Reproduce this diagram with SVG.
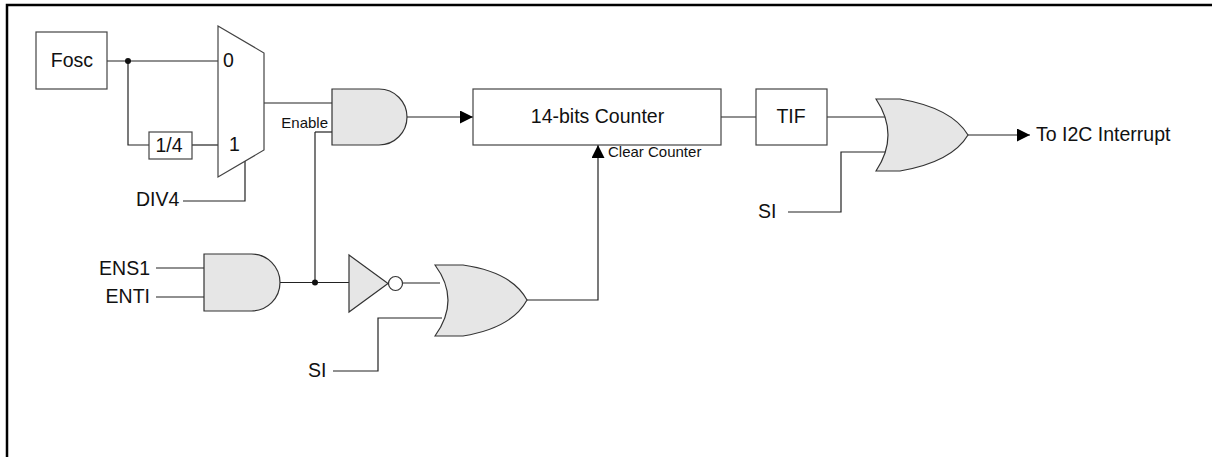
<svg xmlns="http://www.w3.org/2000/svg" width="1212" height="457" viewBox="0 0 1212 457">
<style>
  .w{fill:none;stroke:#222;stroke-width:1.2}
  .box{fill:#fff;stroke:#444;stroke-width:1.2}
  .g{fill:#e6e6e6;stroke:#333;stroke-width:1.2}
  .t{font-family:"Liberation Sans",Arial,sans-serif;font-size:19.5px;fill:#111}
  .s{font-family:"Liberation Sans",Arial,sans-serif;font-size:15px;fill:#111}
</style>
<defs>
  <marker id="arr" viewBox="0 0 10 10" refX="10" refY="5" markerWidth="13" markerHeight="13" markerUnits="userSpaceOnUse" orient="auto">
    <path d="M0,0 L10,5 L0,10 Z" fill="#000"/>
  </marker>
</defs>
<rect width="1212" height="457" fill="#fff"/>
<path d="M7,457 V5 H1212" fill="none" stroke="#000" stroke-width="2.5"/>

<g id="connectors">
  <path class="w" d="M107,61 H218"/>
  <path class="w" d="M128,61 V145 H149"/>
  <path class="w" d="M192,145 H218"/>
  <path class="w" d="M264,103 H332"/>
  <path class="w" d="M183,201 H245 V161"/>
  <path class="w" d="M315,132 H332"/>
  <path class="w" d="M315,132 V282.5"/>
  <path class="w" d="M156,268 H204"/>
  <path class="w" d="M156,297 H204"/>
  <path class="w" d="M280,282.5 H349"/>
  <path class="w" d="M403,283 H440"/>
  <path class="w" d="M333,371 H378 V318 H442"/>
  <path class="w" d="M407,117 H473" marker-end="url(#arr)"/>
  <path class="w" d="M527,300 H598 V145" marker-end="url(#arr)"/>
  <path class="w" d="M721,117 H756"/>
  <path class="w" d="M827,117 H886"/>
  <path class="w" d="M788,212 H841 V152 H886"/>
  <path class="w" d="M968,135 H1030" marker-end="url(#arr)"/>
  <circle cx="128" cy="61" r="3" fill="#111"/>
  <circle cx="315" cy="282.5" r="3" fill="#111"/>
</g>

<g id="fosc">
  <rect class="box" x="36" y="32" width="71" height="57"/>
  <text class="t" x="72" y="67" text-anchor="middle">Fosc</text>
</g>
<g id="div14">
  <rect class="box" x="149" y="132" width="43" height="27"/>
  <text class="t" x="169" y="152" text-anchor="middle">1/4</text>
</g>
<g id="mux">
  <path class="box" d="M218,26 L264,53 L264,150 L218,177 Z"/>
  <text class="t" x="223" y="67">0</text>
  <text class="t" x="229" y="151">1</text>
</g>
<g id="div4-label">
  <text class="t" x="136" y="206">DIV4</text>
</g>
<g id="and1">
  <path class="g" d="M332,89 H379 A28,28 0 0 1 379,145 H332 Z"/>
  <text class="s" x="328" y="128" text-anchor="end">Enable</text>
</g>
<g id="and2">
  <path class="g" d="M204,254 H251.5 A28.5,28.5 0 0 1 251.5,311 H204 Z"/>
  <text class="t" x="150" y="275" text-anchor="end">ENS1</text>
  <text class="t" x="150" y="303" text-anchor="end">ENTI</text>
</g>
<g id="inverter">
  <path class="g" d="M349,255 L349,312 L388,283.5 Z"/>
  <circle cx="395.5" cy="283.5" r="7" fill="#fff" stroke="#333" stroke-width="1.2"/>
</g>
<g id="or1">
  <path class="g" d="M435,265 L463,265 Q512,272 527,300 Q512,328 463,336 L435,336 Q461,300 435,265 Z"/>
  <text class="t" x="308" y="377">SI</text>
</g>
<g id="counter">
  <rect class="box" x="473" y="89" width="248" height="56"/>
  <text class="t" x="597.5" y="123" text-anchor="middle">14-bits Counter</text>
  <text class="s" x="608" y="157">Clear Counter</text>
</g>
<g id="tif">
  <rect class="box" x="756" y="89" width="71" height="56"/>
  <text class="t" x="791" y="123" text-anchor="middle">TIF</text>
</g>
<g id="or2">
  <path class="g" d="M876,99 L900,99 Q952,108 968,135 Q952,162 900,171 L876,171 Q900,135 876,99 Z"/>
  <text class="t" x="758" y="218">SI</text>
</g>
<g id="output">
  <text class="t" x="1036" y="141">To I2C Interrupt</text>
</g>
</svg>
